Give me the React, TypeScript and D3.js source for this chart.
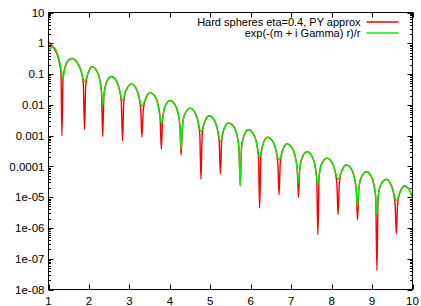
import React from "react";
import * as d3 from "d3";

// ---- data ----
const xTicks = [1, 2, 3, 4, 5, 6, 7, 8, 9, 10];
const yTicks = [1e-8, 1e-7, 1e-6, 1e-5, 1e-4, 1e-3, 1e-2, 1e-1, 1, 10];
const yTickLabels = ["1e-08", "1e-07", "1e-06", "1e-05", "0.0001", "0.001", "0.01", "0.1", "1", "10"];

const seriesNames = ["Hard spheres eta=0.4, PY approx", "exp(-(m + i Gamma) r)/r"];
const seriesColors = ["#ff0000", "#00f000"];

// start of the curves (before the first zero)
const redHeadR = [1.0, 1.05, 1.1, 1.15, 1.2, 1.25, 1.28, 1.31];
const redHeadV = [1.13, 0.95, 0.78, 0.64, 0.48, 0.3, 0.19, 0.1];
const greenHeadR = [1.0, 1.05, 1.107, 1.16, 1.22, 1.28, 1.32];
const greenHeadV = [0.54, 0.7, 0.78, 0.68, 0.46, 0.24, 0.12];

// dips (zeros of the oscillation)
const redDipR = [1.33, 1.89, 2.34, 2.83, 3.31, 3.79, 4.28, 4.77, 5.25, 5.74, 6.22, 6.7, 7.18, 7.66, 8.16, 8.64, 9.12, 9.6];
const redDipV = [9.8e-4, 1.6e-3, 9.3e-4, 6.8e-4, 8.9e-4, 3.6e-4, 2.3e-4, 3.8e-5, 5.8e-5, 2.5e-5, 4.4e-6, 1.2e-5, 9.8e-6, 6e-7, 2.7e-6, 1.8e-6, 4.2e-8, 6.5e-7];
const greenDipR = [1.355, 1.89, 2.34, 2.83, 3.31, 3.79, 4.28, 4.77, 5.25, 5.74, 6.22, 6.7, 7.18, 7.66, 8.16, 8.64, 9.12, 9.6];
const greenDipV = [0.072, 0.056, 0.01, 0.0138, 0.0092, 0.0025, 3.5e-4, 1.35e-3, 6.5e-4, 2.3e-5, 2.1e-4, 1.6e-4, 2.8e-5, 2.5e-5, 3.8e-5, 5e-6, 2.7e-6, 7.6e-6];

// arches between the dips (shared by both curves)
const arcR = [
  1.36, 1.41, 1.47, 1.58, 1.73, 1.81, 1.86,
  1.92, 1.97, 2.08, 2.18, 2.26, 2.31,
  2.37, 2.42, 2.55, 2.67, 2.75, 2.8,
  2.86, 2.91, 3.05, 3.15, 3.23, 3.28,
  3.34, 3.39, 3.51, 3.63, 3.71, 3.76,
  3.82, 3.87, 4.0, 4.12, 4.2, 4.25,
  4.31, 4.36, 4.5, 4.61, 4.69, 4.74,
  4.8, 4.85, 4.97, 5.09, 5.17, 5.22,
  5.28, 5.33, 5.45, 5.58, 5.66, 5.71,
  5.77, 5.82, 5.94, 6.06, 6.14, 6.19,
  6.25, 6.3, 6.41, 6.54, 6.62, 6.67,
  6.73, 6.78, 6.89, 7.02, 7.1, 7.15,
  7.21, 7.26, 7.39, 7.5, 7.58, 7.63,
  7.69, 7.74, 7.88, 8.0, 8.08, 8.13,
  8.19, 8.24, 8.36, 8.48, 8.56, 8.61,
  8.67, 8.72, 8.86, 8.96, 9.04, 9.09,
  9.15, 9.2, 9.36, 9.44, 9.52, 9.57,
  9.63, 9.68, 9.8, 9.92, 10.0,
];
const arcV = [
  0.074, 0.172, 0.26, 0.32, 0.21, 0.12, 0.05,
  0.041, 0.099, 0.174, 0.134, 0.071, 0.026,
  0.02, 0.048, 0.083, 0.0625, 0.033, 0.0122,
  0.0116, 0.028, 0.048, 0.0368, 0.0195, 0.00716,
  0.00596, 0.0145, 0.025, 0.0189, 0.01, 0.00367,
  0.00331, 0.00804, 0.0138, 0.0104, 0.0055, 0.00202,
  0.00188, 0.00457, 0.0078, 0.0059, 0.00313, 0.00115,
  0.00104, 0.00251, 0.0044, 0.00328, 0.00174, 0.000638,
  0.000624, 0.00151, 0.0026, 0.00195, 0.00104, 0.00038,
  0.000367, 0.000891, 0.00155, 0.00116, 0.000617, 0.000226,
  0.000209, 0.000507, 0.00089, 0.000662, 0.000351, 0.000129,
  0.000126, 0.000305, 0.00054, 0.000399, 0.000211, 7.76e-5,
  7.24e-5, 0.000176, 0.0003, 0.00023, 0.000122, 4.47e-5,
  4.52e-5, 0.00011, 0.000185, 0.00014, 7.41e-5, 2.72e-5,
  2.66e-5, 6.46e-5, 0.000112, 8.43e-5, 4.47e-5, 1.64e-5,
  1.64e-5, 3.98e-5, 6.8e-5, 5.2e-5, 2.75e-5, 1.01e-5,
  9.44e-6, 2.29e-5, 3.8e-5, 2.99e-5, 1.58e-5, 5.82e-6,
  5.43e-6, 1.32e-5, 2.3e-5, 1.72e-5, 9.3e-6,
];

type P = [number, number];

function buildSeries(headR: number[], headV: number[], dipR: number[], dipV: number[]): P[] {
  const pts: P[] = headR.map((r, i) => [r, headV[i]] as P);
  arcR.forEach((r, i) => {
    const v = arcV[i];
    let keep = true;
    dipR.forEach((dr, j) => {
      const dist = Math.abs(r - dr);
      if (dist < 0.02 || (dist < 0.035 && v < dipV[j])) keep = false;
    });
    if (keep) pts.push([r, v]);
  });
  dipR.forEach((r, i) => pts.push([r, dipV[i]]));
  pts.sort((a, b) => a[0] - b[0]);
  return pts;
}

const W = 421;
const H = 306;
const left = 48.5;
const right = 412.5;
const top = 12.5;
const bottom = 289.5;

export default function App() {
  const x = d3.scaleLinear().domain([1, 10]).range([left, right]);
  const y = d3.scaleLog().domain([1e-8, 10]).range([bottom, top]);

  const red = buildSeries(redHeadR, redHeadV, redDipR, redDipV);
  const green = buildSeries(greenHeadR, greenHeadV, greenDipR, greenDipV);

  const line = d3
    .line<P>()
    .x((d) => x(d[0]))
    .y((d) => y(d[1]))
    .curve(d3.curveMonotoneX);

  const minorY: number[] = [];
  for (let k = -8; k < 1; k++) {
    for (let m = 2; m <= 9; m++) minorY.push(m * Math.pow(10, k));
  }

  const font = "'Liberation Sans', Arial, sans-serif";
  const majorLen = 5;
  const minorLen = 2.5;

  return (
    <svg
      width={W}
      height={H}
      style={{ position: "fixed", left: 0, top: 0, background: "#fff" }}
      fontFamily={font}
    >
      <rect x={0} y={0} width={W} height={H} fill="#fff" />
      <defs>
        <clipPath id="plotclip">
          <rect x={left} y={top} width={right - left} height={bottom - top} />
        </clipPath>
      </defs>

      {/* ticks */}
      <g stroke="#000" strokeWidth={1}>
        {yTicks.map((t) => (
          <g key={"yt" + t}>
            <line x1={left} x2={left + majorLen} y1={Math.round(y(t)) + 0.5} y2={Math.round(y(t)) + 0.5} />
            <line x1={right - majorLen} x2={right} y1={Math.round(y(t)) + 0.5} y2={Math.round(y(t)) + 0.5} />
          </g>
        ))}
        {minorY.map((t) => (
          <g key={"ym" + t}>
            <line x1={left} x2={left + minorLen} y1={Math.round(y(t)) + 0.5} y2={Math.round(y(t)) + 0.5} />
            <line x1={right - minorLen} x2={right} y1={Math.round(y(t)) + 0.5} y2={Math.round(y(t)) + 0.5} />
          </g>
        ))}
        {xTicks.map((t) => (
          <g key={"xt" + t}>
            <line x1={Math.round(x(t)) + 0.5} x2={Math.round(x(t)) + 0.5} y1={bottom} y2={bottom - majorLen} />
            <line x1={Math.round(x(t)) + 0.5} x2={Math.round(x(t)) + 0.5} y1={top} y2={top + majorLen} />
          </g>
        ))}
      </g>

      {/* tick labels */}
      <g fontSize={11.5} fill="#000">
        {yTicks.map((t, i) => (
          <text key={"yl" + t} x={left - 4} y={y(t)} dy="0.36em" textAnchor="end">
            {yTickLabels[i]}
          </text>
        ))}
        {xTicks.map((t) => (
          <text key={"xl" + t} x={x(t)} y={305} textAnchor="middle">
            {t}
          </text>
        ))}
      </g>

      {/* curves */}
      <g clipPath="url(#plotclip)" fill="none" strokeWidth={1.4} strokeLinejoin="round">
        <path d={line(red) || ""} stroke={seriesColors[0]} />
        <path d={line(green) || ""} stroke={seriesColors[1]} />
      </g>

      {/* legend */}
      <g fontSize={11}>
        {seriesNames.map((name, i) => (
          <g key={name}>
            <text x={360.5} y={22 + i * 11} dy="0.35em" textAnchor="end" fill="#000">
              {name}
            </text>
            <line x1={366.5} x2={398.5} y1={22 + i * 11} y2={22 + i * 11} stroke={seriesColors[i]} strokeWidth={1.4} />
          </g>
        ))}
      </g>

      {/* border */}
      <rect x={left} y={top} width={right - left} height={bottom - top} fill="none" stroke="#000" strokeWidth={1} />
    </svg>
  );
}
